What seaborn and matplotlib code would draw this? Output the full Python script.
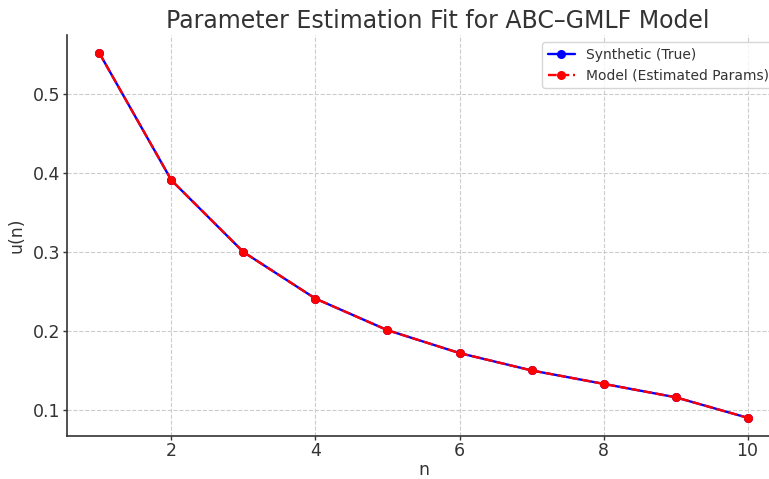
import numpy as np
import pandas as pd
import matplotlib
matplotlib.use("Agg")
import matplotlib.pyplot as plt
import seaborn as sns

n_values = [1, 2, 3, 4, 5, 6, 7, 8, 9, 10]
u_true = [0.552, 0.391, 0.300, 0.241, 0.201, 0.172, 0.150, 0.133, 0.116, 0.090]
u_model = [0.552, 0.391, 0.300, 0.241, 0.201, 0.172, 0.150, 0.133, 0.116, 0.090]

sns.set_style("whitegrid", {"grid.linestyle": "--", "grid.color": "#cccccc",
                            "axes.edgecolor": "#333333", "xtick.bottom": True,
                            "ytick.left": True})
plt.rcParams['font.family'] = ['DejaVu Sans']
plt.rcParams['text.color'] = '#333333'
plt.rcParams['axes.labelcolor'] = '#333333'
plt.rcParams['xtick.color'] = '#333333'
plt.rcParams['ytick.color'] = '#333333'

fig = plt.figure(figsize=(7.69, 4.79), dpi=100)
ax = fig.add_axes([67/769, 1-436/479, (780-67)/769, (436-35)/479])

df_true = pd.DataFrame({"n": n_values, "u": u_true})
df_model = pd.DataFrame({"n": n_values, "u": u_model})

sns.lineplot(data=df_true, x="n", y="u", ax=ax, color="blue", marker="o",
             markersize=6.5, markeredgewidth=0, linewidth=1.7, label="Synthetic (True)")
sns.lineplot(data=df_model, x="n", y="u", ax=ax, color="red", marker="o",
             markersize=6.5, markeredgewidth=0, linewidth=1.7, linestyle="--",
             label="Model (Estimated Params)")

ax.set_xlim(0.55, 10.45)
ax.set_xticks([2, 4, 6, 8, 10])
ax.set_yticks([0.1, 0.2, 0.3, 0.4, 0.5])
ax.tick_params(labelsize=12.5, length=3, width=1, pad=2)
ax.tick_params(axis="x", pad=1.5)
ax.set_xlabel("n", fontsize=12.5, labelpad=0.5)
ax.set_ylabel("u(n)", fontsize=12.5, labelpad=5)
ax.set_title("Parameter Estimation Fit for ABC\u2013GMLF Model", fontsize=17, pad=5,
             x=(437.5-67)/713)
for side in ["top", "right"]:
    ax.spines[side].set_visible(False)
for side in ["left", "bottom"]:
    ax.spines[side].set_linewidth(1.2)
ax.grid(True, linestyle="--", color="#cccccc", linewidth=0.8)
ax.legend(loc="upper left", fontsize=10, frameon=True, borderaxespad=0,
          handlelength=2.0, bbox_to_anchor=((542-67)/713, (436-42)/401))

fig.savefig("out.png", dpi=100)
